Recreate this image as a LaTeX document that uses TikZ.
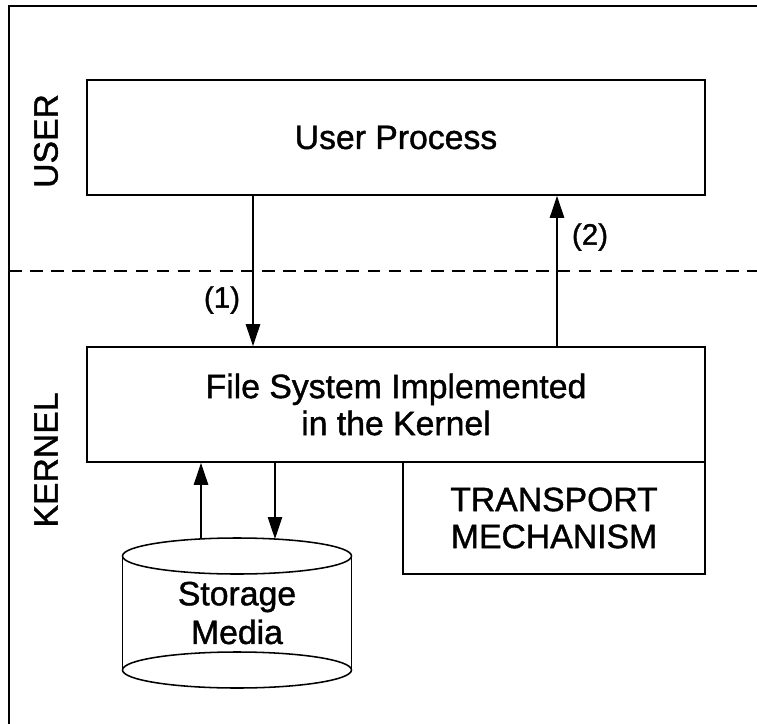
\documentclass[tikz,border=0pt]{standalone}
\usepackage{fontspec}
\setmainfont{Liberation Sans}[BoldFont={Liberation Sans}, BoldFeatures={FakeBold=1.2}]
\usetikzlibrary{arrows.meta, positioning, calc}
\definecolor{ink}{HTML}{000000}

\tikzset{
  frame/.style={draw=ink, line width=1.1pt},
  box/.style={draw=ink, line width=1.2pt, minimum width=15.45cm, minimum height=2.875cm,
    align=center, text=ink, font=\bfseries\fontsize{24}{26.3}\selectfont},
  txt/.style={align=center, text=ink, font=\bfseries\fontsize{24}{27.5}\selectfont},
  side/.style={text=ink, font=\bfseries\fontsize{24}{26.3}\selectfont},
  lbl/.style={text=ink, font=\bfseries\fontsize{21}{24}\selectfont},
  link/.style={draw=ink, line width=1pt}
}

\begin{document}
\begin{tikzpicture}[x=0.025cm, y=-0.025cm, >={Triangle[length=5.5mm, width=3.6mm]}]

\useasboundingbox (0,0) rectangle (757,724);

% Frame
\draw[frame] (757,6) -| (9,724);

% User / kernel boundary
\draw[frame, dash pattern=on 9pt off 6pt] (9,271) -- (757,271);

% Side labels
\node[side, rotate=90] (userlbl) at (46,141) {USER};
\node[side, rotate=90] (kernellbl) at (46,460) {KERNEL};

% --- Boxes ---
\node[box] (user) at (396,137.5) {User Process};
\node[box] (fs) at (396,404.5) {File System Implemented\\in the Kernel};
\node[box, minimum width=7.55cm, minimum height=2.8cm] (tm) at (554,518) {TRANSPORT\\MECHANISM};

% --- Storage (cylinder) ---
\draw[frame] (122.5,556) -- (122.5,670);
\draw[frame] (351.5,556) -- (351.5,670);
\draw[frame, fill=white] (237,556) ellipse (114.5 and 18);
\draw[frame] (237,670) ellipse (114.5 and 18);
\node[txt] (media) at (237,613) {Storage\\Media};
\coordinate (diskout) at (201,539);
\coordinate (diskin) at (275,539);

% --- Connectors ---
\coordinate (callx) at (253,271);
\coordinate (retx) at (557,271);
\draw[link, ->] (user.south -| callx) -- (fs.north -| callx);
\draw[link, ->] (fs.north -| retx) -- (user.south -| retx);
\node[lbl] (call) at (222,300) {(1)};
\node[lbl] (ret) at (590,237) {(2)};
\draw[link, ->] (diskout) -- (fs.south -| diskout);
\draw[link, ->] (fs.south -| diskin) -- (diskin);

\end{tikzpicture}
\end{document}
